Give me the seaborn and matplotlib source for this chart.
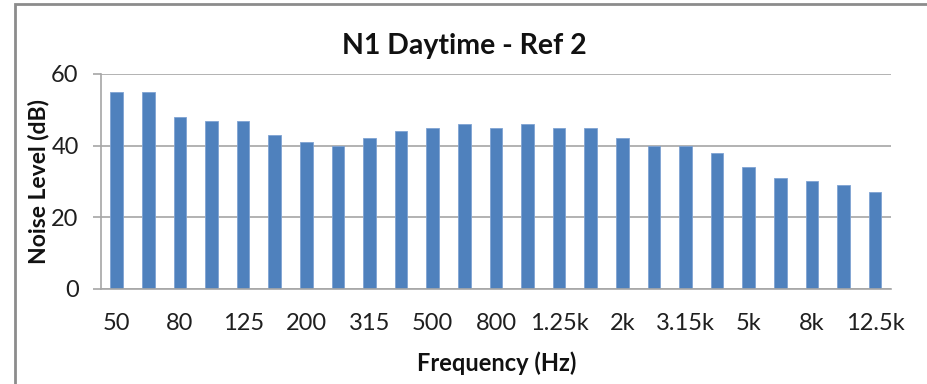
import matplotlib
matplotlib.use("Agg")
import matplotlib.pyplot as plt
from matplotlib.patches import Rectangle
import seaborn as sns
import pandas as pd

# One-third octave band centre frequencies and measured levels
bands = ["50", "63", "80", "100", "125", "160", "200", "250", "315", "400",
         "500", "630", "800", "1k", "1.25k", "1.6k", "2k", "2.5k", "3.15k",
         "4k", "5k", "6.3k", "8k", "10k", "12.5k"]
levels_db = [55, 55, 48, 47, 47, 43, 41, 40, 42, 44,
             45, 46, 45, 46, 45, 45, 42, 40, 40,
             38, 34, 31, 30, 29, 27]
y_ticks = [0, 20, 40, 60]

df = pd.DataFrame({"band": bands, "level": levels_db})

sns.set_theme(style="white")
plt.rcParams["font.family"] = ["Lato", "DejaVu Sans"]

fig = plt.figure(figsize=(9.28, 3.84), dpi=100)
ax = fig.add_axes([0.1088, 0.2474, 0.8513, 0.5599])

sns.barplot(data=df, x="band", y="level", order=bands, color="#4F81BD",
            saturation=1, width=0.4, edgecolor="#7FA3D3", linewidth=0.6,
            ax=ax)

grid_col = "#A6A6A6"
ax.set_ylim(0, 60)
ax.set_yticks(y_ticks)
ax.yaxis.grid(True, color=grid_col, linewidth=1.2)
ax.set_axisbelow(True)
ax.set_xlim(-0.5, len(bands) - 0.5)

# Show every other band label along the category axis
ax.set_xticks(range(0, len(bands), 2))
ax.set_xticklabels(bands[::2])

for side in ["top", "right"]:
    ax.spines[side].set_visible(False)
for side in ["left", "bottom"]:
    ax.spines[side].set_color(grid_col)
    ax.spines[side].set_linewidth(1.2)

ax.tick_params(axis="y", which="major", length=6, width=1.2, color=grid_col,
               direction="out", left=True, pad=10, labelsize=17,
               labelcolor="#1f1f1f")
ax.tick_params(axis="x", which="major", length=0, pad=17, labelsize=17,
               labelcolor="#1f1f1f")

ax.set_xlabel("")
ax.set_ylabel("")
fig.text(0.041, 0.5286, "Noise Level (dB)", rotation=90, ha="center",
         va="center", fontsize=16.5, fontweight="bold", color="#111111")
fig.text(0.5355, 0.055, "Frequency (Hz)", ha="center", va="center",
         fontsize=17, fontweight="bold", color="#111111")
fig.text(0.5, 0.881, "N1 Daytime - Ref 2", ha="center", va="center",
         fontsize=20.5, fontweight="bold", color="#111111")

# Chart frame
fig.patches.append(Rectangle((15 / 928, -0.05), 1.0, 1.05 - 4 / 384,
                             transform=fig.transFigure, fill=False,
                             edgecolor="#8C8C8C", linewidth=2))

fig.savefig("out.png", dpi=100)
